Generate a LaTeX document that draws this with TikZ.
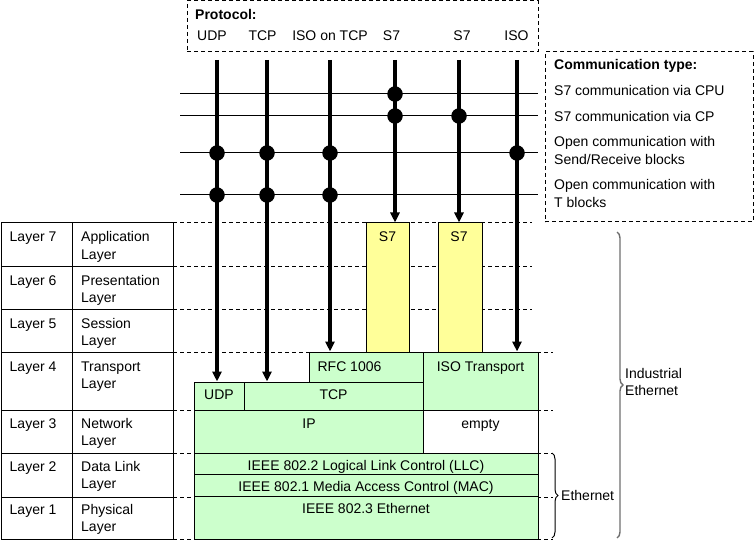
\documentclass[tikz,border=0pt]{standalone}
\usepackage{fontspec}
\setmainfont{Liberation Sans}
\usetikzlibrary{arrows.meta,decorations.pathreplacing,fit}
\definecolor{lgreen}{RGB}{204,255,204}
\definecolor{lyellow}{RGB}{255,255,153}
\definecolor{bracegray}{RGB}{110,110,110}
\begin{document}
\begin{tikzpicture}[x=1pt,y=-1pt,
  every node/.style={font=\fontsize{14}{17}\selectfont, inner sep=0pt},
  bf/.style={font=\fontsize{14}{17}\selectfont\bfseries},
  lt/.style={anchor=base west},
  ct/.style={anchor=base},
  bx/.style={draw, line width=1pt, inner sep=0pt},
  gbox/.style={bx, fill=lgreen},
  ybox/.style={bx, fill=lyellow},
  wbox/.style={bx, fill=white},
  dline/.style={line width=1pt, dash pattern=on 4pt off 3pt},
  dbox/.style={draw, dline, inner sep=0pt},
  hline/.style={line width=1pt},
  proto/.style={line width=3.3pt, -{Triangle[length=10pt,width=9pt]}},
  dot/.style={circle, fill=black, draw=none, inner sep=0pt, minimum size=15.5pt},
  brc/.style={decorate, decoration={brace, amplitude=6pt}, line width=1pt},
]
\useasboundingbox (0,0) rectangle (755,540);

% dashed guide lines
\foreach \yy in {223,266,309} \draw[dline] (173,\yy) -- (532,\yy);
\foreach \yy in {352,410,453,497,539} \draw[dline] (173,\yy) -- (553,\yy);

% dashed frames
\node[dbox, fit={(187,1) (538,52)}] (protobox) {};
\node[dbox, fit={(545,52) (753,222)}] (commbox) {};

% protocol stack boxes
\node[ybox, fit={(366,223) (409,352)}] (s7a) {};
\node[ybox, fit={(438,223) (482,352)}] (s7b) {};
\node[gbox, fit={(309,352) (423,382)}] (rfc) {};
\node[gbox, fit={(423,352) (538,410)}] (isot) {};
\node[gbox, fit={(194,382) (244,410)}] (udp) {};
\node[gbox, fit={(244,382) (423,410)}] (tcp) {};
\node[gbox, fit={(194,410) (423,453)}] (ip) {};
\node[wbox, fit={(423,410) (538,453)}] (empty) {};
\node[gbox, fit={(194,453) (538,474.5)}] (llc) {};
\node[gbox, fit={(194,474.5) (538,496.5)}] (mac) {};
\node[gbox, fit={(194,496.5) (538,539)}] (eth) {};

\node[ct] (s7at) at (387.5,242) {S7};
\node[ct] (s7bt) at (459,242) {S7};
\node[ct] (rfct) at (349.5,371) {RFC 1006};
\node[ct] (isott) at (480.5,371) {ISO Transport};
\node[ct] (udpt) at (219,399) {UDP};
\node[ct] (tcpt) at (333.5,399) {TCP};
\node[ct] (ipt) at (309,428) {IP};
\node[ct] (emptyt) at (480.5,428) {empty};
\node[ct] (llct) at (366,470.5) {IEEE 802.2 Logical Link Control (LLC)};
\node[ct] (mact) at (366,491.5) {IEEE 802.1 Media Access Control (MAC)};
\node[ct] (etht) at (366,513) {IEEE 802.3 Ethernet};

% OSI table
\draw[hline] (1.5,223) rectangle (173,539);
\draw[hline] (72,223) -- (72,539);
\foreach \yy in {266,309,352,410,453,497} \draw[hline] (1.5,\yy) -- (173,\yy);

\node[lt] (n7) at (9.5,241.7) {Layer 7};
\node[lt] (a7) at (81,241.7) {Application};
\node[lt] (b7) at (81,259) {Layer};
\node[lt] (n6) at (9.5,285) {Layer 6};
\node[lt] (a6) at (81,285) {Presentation};
\node[lt] (b6) at (81,302) {Layer};
\node[lt] (n5) at (9.5,328.3) {Layer 5};
\node[lt] (a5) at (81,328.3) {Session};
\node[lt] (b5) at (81,345.5) {Layer};
\node[lt] (n4) at (9.5,371) {Layer 4};
\node[lt] (a4) at (81,371) {Transport};
\node[lt] (b4) at (81,388) {Layer};
\node[lt] (n3) at (9.5,428) {Layer 3};
\node[lt] (a3) at (81,428) {Network};
\node[lt] (b3) at (81,445) {Layer};
\node[lt] (n2) at (9.5,471) {Layer 2};
\node[lt] (a2) at (81,471) {Data Link};
\node[lt] (b2) at (81,488) {Layer};
\node[lt] (n1) at (9.5,514) {Layer 1};
\node[lt] (a1) at (81,514) {Physical};
\node[lt] (b1) at (81,531.5) {Layer};

% protocol header
\node[lt, bf] (ph) at (195,20) {Protocol:};
\node[ct] (pudp) at (212,41) {UDP};
\node[ct] (ptcp) at (262.5,41) {TCP};
\node[ct] (piso) at (330,41) {ISO on TCP};
\node[ct] (ps7a) at (391.5,41) {S7};
\node[ct] (ps7b) at (462,41) {S7};
\node[ct] (pis) at (516.5,41) {ISO};

% communication type legend
\node[lt, bf] (ch) at (554,69.5) {Communication type:};
\node[lt] (c1) at (554,96) {S7 communication via CPU};
\node[lt] (c2) at (554,121.5) {S7 communication via CP};
\node[lt] (c3a) at (554,146.5) {Open communication with};
\node[lt] (c3b) at (554,165) {Send/Receive blocks};
\node[lt] (c4a) at (554,190) {Open communication with};
\node[lt] (c4b) at (554,208) {T blocks};

% horizontal communication lines
\foreach \yy/\nm in {94/cpu,116/cp,153/sr,195/tb} {
  \coordinate (\nm L) at (180,\yy);
  \coordinate (\nm R) at (538,\yy);
  \draw[hline] (\nm L) -- (\nm R);
}

% vertical protocol arrows
\coordinate (vudp) at (217,60);
\coordinate (vtcp) at (267,60);
\coordinate (viso) at (330,60);
\coordinate (vs7a) at (395,60);
\coordinate (vs7b) at (459,60);
\coordinate (vis) at (517,60);
\draw[proto] (vudp) -- (vudp |- udp.north);
\draw[proto] (vtcp) -- (vtcp |- tcp.north);
\draw[proto] (viso) -- (viso |- rfc.north);
\draw[proto] (vs7a) -- (vs7a |- s7a.north);
\draw[proto] (vs7b) -- (vs7b |- s7b.north);
\draw[proto] (vis) -- (vis |- isot.north);

% junction dots
\node[dot] (d1) at (vs7a |- cpuL) {};
\node[dot] (d2) at (vs7a |- cpL) {};
\node[dot] (d3) at (vs7b |- cpL) {};
\node[dot] (d4) at (vudp |- srL) {};
\node[dot] (d5) at (vtcp |- srL) {};
\node[dot] (d6) at (viso |- srL) {};
\node[dot] (d7) at (vis |- srL) {};
\node[dot] (d8) at (vudp |- tbL) {};
\node[dot] (d9) at (vtcp |- tbL) {};
\node[dot] (d10) at (viso |- tbL) {};

% braces
\coordinate (ieT) at (617,232);
\coordinate (ieB) at (617,538);
\draw[brc, draw=bracegray, line width=1.4pt] (ieT) -- (ieB);
\node[lt] (ie1) at (625,378.5) {Industrial};
\node[lt] (ie2) at (625,395) {Ethernet};
\coordinate (etT) at (552,453);
\coordinate (etB) at (552,538);
\draw[brc] (etT) -- (etB);
\node[lt] (etl) at (561,500) {Ethernet};
\end{tikzpicture}
\end{document}
